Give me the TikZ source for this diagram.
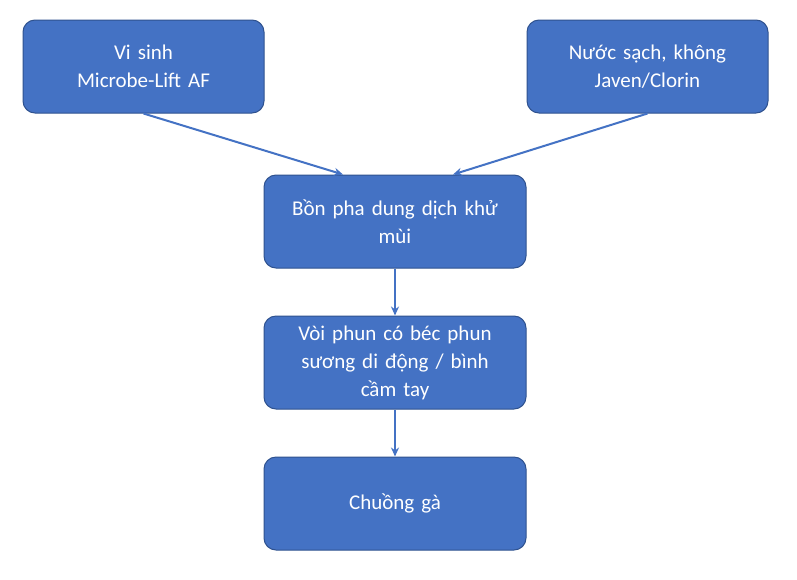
\documentclass[tikz,border=0pt]{standalone}
\usepackage{fontspec}
\setmainfont{Carlito}
\usetikzlibrary{positioning,arrows.meta}
\definecolor{boxfill}{HTML}{4472C4}
\definecolor{boxline}{HTML}{2F528F}
\tikzset{
  stepbox/.style={draw=boxline, line width=1pt, fill=boxfill, rounded corners=12pt,
    text=white, align=center, minimum width=#1, minimum height=93pt,
    inner sep=2pt, font=\fontsize{21}{28}\selectfont},
  flow/.style={draw=boxfill, line width=2pt, -{Stealth[length=9pt,width=8pt]}}
}
\begin{document}
\begin{tikzpicture}[x=1pt,y=-1pt]
\useasboundingbox[fill=white] (0,0) rectangle (797,579);
% input boxes
\node[stepbox=241pt, text width=235pt] (microbe) at (143.5,66.5) {Vi sinh\\Microbe-Lift AF};
\node[stepbox=241pt, text width=235pt] (water) at (647.5,66.5) {Nước sạch, không\\Javen/Clorin};
% process chain
\node[stepbox=262pt, text width=250pt] (tank) at (395,221.5) {Bồn pha dung dịch khử\\mùi};
\node[stepbox=262pt, text width=250pt] (nozzle) at (395,362.5) {Vòi phun có béc phun\\sương di động / bình\\cầm tay};
\node[stepbox=262pt, text width=250pt] (coop) at (395,503.5) {Chuồng gà};
\draw[flow] (microbe.south) -- ([xshift=-52pt]tank.north);
\draw[flow] (water.south) -- ([xshift=58pt]tank.north);
\draw[flow] (tank) -- (nozzle);
\draw[flow] (nozzle) -- (coop);
\end{tikzpicture}
\end{document}
